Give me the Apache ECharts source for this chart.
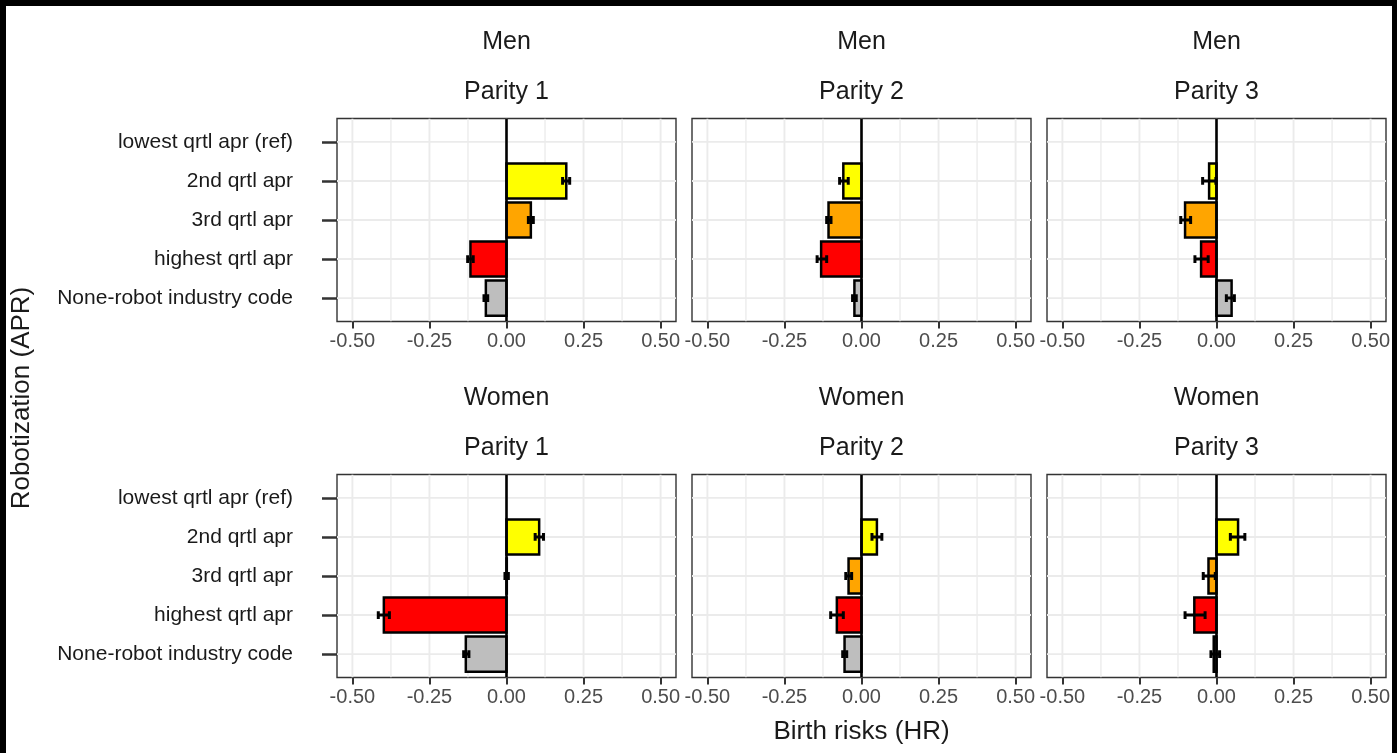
<!DOCTYPE html>
<html><head><meta charset="utf-8">
<script src="https://cdn.jsdelivr.net/npm/echarts@6/dist/echarts.min.js"></script>
<style>html,body{margin:0;padding:0;background:#fff;} #c{width:1397px;height:753px;}</style>
</head><body><div id="c"></div>
<script>
// ---------- data ----------
const categories = ['lowest qrtl apr (ref)', '2nd qrtl apr', '3rd qrtl apr', 'highest qrtl apr', 'None-robot industry code'];
const xTicks = [-0.5, -0.25, 0, 0.25, 0.5];
const xMinor = [-0.375, -0.125, 0.125, 0.375];
const sexLabels = ['Men', 'Women'];
const parityLabels = ['Parity 1', 'Parity 2', 'Parity 3'];
const xTitle = 'Birth risks (HR)';
const yTitle = 'Robotization (APR)';

const menP1   = [null, 0.194, 0.079, -0.117, -0.067];
const menP1Lo = [null, 0.182, 0.071, -0.126, -0.073];
const menP1Hi = [null, 0.205, 0.087, -0.108, -0.061];

const menP2   = [null, -0.059, -0.107, -0.131, -0.023];
const menP2Lo = [null, -0.071, -0.113, -0.144, -0.029];
const menP2Hi = [null, -0.043, -0.099, -0.113, -0.017];

const menP3   = [null, -0.024, -0.102, -0.050, 0.049];
const menP3Lo = [null, -0.045, -0.116, -0.070, 0.032];
const menP3Hi = [null, -0.002, -0.084, -0.027, 0.058];

const womenP1   = [null, 0.106, 0.001, -0.398, -0.132];
const womenP1Lo = [null, 0.093, -0.005, -0.416, -0.139];
const womenP1Hi = [null, 0.120, 0.006, -0.380, -0.122];

const womenP2   = [null, 0.050, -0.042, -0.080, -0.055];
const womenP2Lo = [null, 0.034, -0.051, -0.100, -0.061];
const womenP2Hi = [null, 0.066, -0.032, -0.059, -0.048];

const womenP3   = [null, 0.070, -0.026, -0.072, -0.009];
const womenP3Lo = [null, 0.045, -0.043, -0.102, -0.018];
const womenP3Hi = [null, 0.092, -0.004, -0.037, 0.010];

// ---------- styling / layout ----------
const barColors = ['#FFFF00', '#FFFF00', '#FFA500', '#FF0000', '#BEBEBE'];
const FONT = '"Liberation Sans", Arial, sans-serif';
const colLeft = [337, 692, 1047];
const W = 339;
const rowTop = [118.5, 474.5];
const H = 203;
const XMIN = -0.55, XMAX = 0.55, YMIN = 0.4, YMAX = 5.6;

const panels = [
  {r: 0, c: 0, v: menP1, lo: menP1Lo, hi: menP1Hi},
  {r: 0, c: 1, v: menP2, lo: menP2Lo, hi: menP2Hi},
  {r: 0, c: 2, v: menP3, lo: menP3Lo, hi: menP3Hi},
  {r: 1, c: 0, v: womenP1, lo: womenP1Lo, hi: womenP1Hi},
  {r: 1, c: 1, v: womenP2, lo: womenP2Lo, hi: womenP2Hi},
  {r: 1, c: 2, v: womenP3, lo: womenP3Lo, hi: womenP3Hi}
];

const grids = [], xAxes = [], yAxes = [], series = [];

const gridData = [];
xTicks.forEach(v => gridData.push([v, 1, 0]));
xMinor.forEach(v => gridData.push([v, 1, 1]));
categories.forEach((c, k) => gridData.push([0, k + 1, 2]));

function gridRender(params, api) {
  const kind = api.value(2);
  let p1, p2;
  if (kind === 2) {
    const y = api.value(1);
    p1 = api.coord([XMIN, y]); p2 = api.coord([XMAX, y]);
  } else {
    const x = api.value(0);
    p1 = api.coord([x, YMIN]); p2 = api.coord([x, YMAX]);
  }
  return {type: 'line', shape: {x1: p1[0], y1: p1[1], x2: p2[0], y2: p2[1]},
    style: {stroke: '#EBEBEB', lineWidth: kind === 1 ? 1.3 : 1.9}};
}
function zeroRender(params, api) {
  const p1 = api.coord([api.value(0), YMIN]), p2 = api.coord([api.value(0), YMAX]);
  return {type: 'line', shape: {x1: p1[0], y1: p1[1], x2: p2[0], y2: p2[1]},
    style: {stroke: '#000', lineWidth: 2.6}};
}
function barRender(params, api) {
  const v = api.value(0), i = api.value(1);
  const a = api.coord([0, i - 0.45]), b = api.coord([v, i + 0.45]);
  return {type: 'rect',
    shape: {x: Math.min(a[0], b[0]), y: Math.min(a[1], b[1]), width: Math.abs(b[0] - a[0]), height: Math.abs(b[1] - a[1])},
    style: {fill: barColors[i - 1], stroke: '#000', lineWidth: 2.5}};
}
function errRender(params, api) {
  const i = api.value(1), lo = api.value(2), hi = api.value(3);
  const l = api.coord([lo, i]), h = api.coord([hi, i]);
  const lt = api.coord([lo, i - 0.1]), lb = api.coord([lo, i + 0.1]);
  const ht = api.coord([hi, i - 0.1]), hb = api.coord([hi, i + 0.1]);
  const st = {stroke: '#000', lineWidth: 3};
  return {type: 'group', children: [
    {type: 'line', shape: {x1: l[0], y1: l[1], x2: h[0], y2: h[1]}, style: st},
    {type: 'line', shape: {x1: lt[0], y1: lt[1], x2: lb[0], y2: lb[1]}, style: st},
    {type: 'line', shape: {x1: ht[0], y1: ht[1], x2: hb[0], y2: hb[1]}, style: st}
  ]};
}

panels.forEach((p, idx) => {
  grids.push({left: colLeft[p.c], top: rowTop[p.r], width: W, height: H,
    show: true, borderColor: '#333333', borderWidth: 1.4, backgroundColor: '#fff', containLabel: false});
  xAxes.push({type: 'value', gridIndex: idx, min: XMIN, max: XMAX, position: 'bottom',
    axisLine: {show: false, onZero: false}, splitLine: {show: false},
    axisTick: {show: true, customValues: xTicks, length: 7, lineStyle: {color: '#333', width: 2}},
    axisLabel: {show: true, customValues: xTicks, margin: 10, fontSize: 20, fontFamily: FONT, color: '#4D4D4D',
      formatter: v => v.toFixed(2), hideOverlap: false}});
  const first = p.c === 0;
  yAxes.push({type: 'value', gridIndex: idx, min: YMIN, max: YMAX, inverse: true, position: 'left',
    axisLine: {show: false, onZero: false}, splitLine: {show: false},
    axisTick: {show: first, customValues: [1, 2, 3, 4, 5], length: 15, lineStyle: {color: '#333', width: 2.5}},
    axisLabel: {show: first, customValues: [1, 2, 3, 4, 5], margin: 44, fontSize: 21, fontFamily: FONT, color: '#1A1A1A',
      formatter: v => categories[Math.round(v) - 1]}});
  const bars = [];
  p.v.forEach((v, k) => { if (v !== null) bars.push([v, k + 1, p.lo[k], p.hi[k]]); });
  series.push({type: 'custom', xAxisIndex: idx, yAxisIndex: idx, z: 1, clip: true, silent: true,
    renderItem: gridRender, data: gridData, encode: {x: 0, y: 1}});
  series.push({type: 'custom', xAxisIndex: idx, yAxisIndex: idx, z: 2, clip: true, silent: true,
    renderItem: barRender, data: bars, encode: {x: 0, y: 1}});
  series.push({type: 'custom', xAxisIndex: idx, yAxisIndex: idx, z: 3, clip: true, silent: true,
    renderItem: zeroRender, data: [[0, 1]], encode: {x: 0, y: 1}});
  series.push({type: 'custom', xAxisIndex: idx, yAxisIndex: idx, z: 4, clip: true, silent: true,
    renderItem: errRender, data: bars, encode: {x: 0, y: 1}});
});

const graphics = [];
const txt = (text, x, y, size, extra) => Object.assign({type: 'text', x: x, y: y, silent: true,
  style: {text: text, font: size + 'px ' + FONT, fill: '#1A1A1A', align: 'center', verticalAlign: 'middle'}}, extra || {});
[0, 1].forEach(r => {
  [0, 1, 2].forEach(c => {
    const cx = colLeft[c] + W / 2;
    graphics.push(txt(sexLabels[r], cx, rowTop[r] - 76, 25));
    graphics.push(txt(parityLabels[c], cx, rowTop[r] - 26, 25));
  });
});
graphics.push(txt(xTitle, (colLeft[0] + colLeft[2] + W) / 2, 732, 26));
graphics.push(txt(yTitle, 22, (rowTop[0] + rowTop[1] + H) / 2, 26, {rotation: Math.PI / 2}));
// black frame
graphics.push({type: 'rect', silent: true, shape: {x: 0, y: 0, width: 1397, height: 6}, style: {fill: '#000'}});
graphics.push({type: 'rect', silent: true, shape: {x: 0, y: 0, width: 6, height: 753}, style: {fill: '#000'}});
graphics.push({type: 'rect', silent: true, shape: {x: 1392, y: 0, width: 5, height: 753}, style: {fill: '#000'}});

const chart = echarts.init(document.getElementById('c'), null, {renderer: 'canvas'});
chart.setOption({
  backgroundColor: '#fff',
  animation: false,
  grid: grids, xAxis: xAxes, yAxis: yAxes, series: series,
  graphic: graphics
});
</script></body></html>
